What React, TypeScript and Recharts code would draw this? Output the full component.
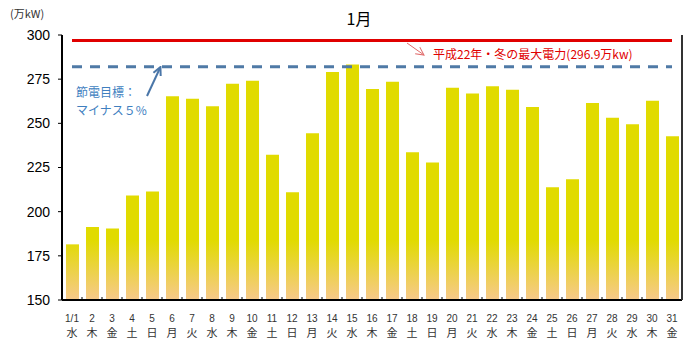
import React from "react";
import {
  BarChart,
  Bar,
  XAxis,
  YAxis,
  ReferenceLine,
} from "recharts";

const days = [
  "1/1", "2", "3", "4", "5", "6", "7", "8", "9", "10", "11", "12", "13", "14", "15", "16",
  "17", "18", "19", "20", "21", "22", "23", "24", "25", "26", "27", "28", "29", "30", "31",
];

const weekdays = [
  "水", "木", "金", "土", "日", "月", "火", "水", "木", "金", "土", "日", "月", "火", "水", "木",
  "金", "土", "日", "月", "火", "水", "木", "金", "土", "日", "月", "火", "水", "木", "金",
];

const peakDemand = [
  181.5, 191.3, 190.5, 209.1, 211.4, 265.4, 263.9, 259.6, 272.4, 274.1, 232.2, 211, 244.4, 279.1,
  283.3, 269.4, 273.5, 233.7, 227.9, 270.1, 266.9, 271, 269, 259.2, 213.8, 218.3, 261.5, 253.2,
  249.5, 262.8, 242.7,
];

const yTicks = [150, 175, 200, 225, 250, 275, 300];

const maxLastWinter = 296.9;
const savingTarget = 282;

const FONT = "'Liberation Sans', 'Noto Sans CJK JP', sans-serif";
const JP = "'Noto Sans CJK JP', sans-serif";

const data = days.map((d, i) => ({ day: d, wd: weekdays[i], value: peakDemand[i] }));

function DayTick(props: any) {
  const { x, y, payload, index } = props;
  const wd = weekdays[index] ?? "";
  return (
    <g>
      {index < days.length - 1 && (
        <line x1={x + 10} y1={y} x2={x + 10} y2={y - 3} stroke="#000" strokeWidth={1} />
      )}
      <text x={x} y={y + 22} textAnchor="middle" fontSize={10} fill="#333" fontFamily={FONT}>
        {payload.value}
      </text>
      <text x={x} y={y + 37} textAnchor="middle" fontSize={11} fill="#333" fontFamily={JP}>
        {wd}
      </text>
    </g>
  );
}

export default function App() {
  return (
    <div style={{ position: "absolute", left: 0, top: 0, width: 700, height: 352, background: "#fff" }}>
      <BarChart
        width={700}
        height={352}
        data={data}
        margin={{ top: 35, right: 0, bottom: 0, left: 0 }}
        barSize={13}
      >
        <defs>
          <linearGradient id="barFill" gradientUnits="userSpaceOnUse" x1="0" y1="240" x2="0" y2="300">
            <stop offset="0" stopColor="#e1db00" />
            <stop offset="1" stopColor="#f7c98c" />
          </linearGradient>
        </defs>
        <XAxis
          xAxisId="main"
          dataKey="day"
          height={52}
          interval={0}
          tickSize={0}
          tickMargin={0}
          tickLine={false}
          axisLine={{ stroke: "#000", strokeWidth: 2 }}
          tick={<DayTick />}
        />
        <XAxis xAxisId="top" orientation="top" dataKey="day" height={0} tick={false} tickLine={false} axisLine={{ stroke: "#555", strokeWidth: 2 }} />
        <YAxis
          yAxisId="main"
          width={62}
          domain={[150, 300]}
          ticks={yTicks}
          interval={0}
          tickSize={4}
          tickMargin={8}
          axisLine={{ stroke: "#000", strokeWidth: 2 }}
          tickLine={{ stroke: "#000" }}
          tick={{ fontSize: 14, fill: "#000", fontFamily: FONT }}
        />
        <YAxis
          yAxisId="right"
          orientation="right"
          width={18}
          domain={[150, 300]}
          tick={false}
          tickLine={false}
          axisLine={{ stroke: "#333", strokeWidth: 2 }}
        />
        <Bar xAxisId="main" yAxisId="main" dataKey="value" fill="url(#barFill)" isAnimationActive={false} />
        <ReferenceLine
          xAxisId="main"
          yAxisId="main"
          segment={[{ x: days[0], y: maxLastWinter }, { x: days[days.length - 1], y: maxLastWinter }]}
          stroke="#e00000"
          strokeWidth={3}
        />
        <ReferenceLine
          xAxisId="main"
          yAxisId="main"
          segment={[{ x: days[0], y: savingTarget }, { x: days[days.length - 1], y: savingTarget }]}
          stroke="#4f7aa6"
          strokeWidth={3}
          strokeDasharray="10 8"
        />
      </BarChart>
      <svg
        width={700}
        height={352}
        style={{ position: "absolute", left: 0, top: 0, pointerEvents: "none" }}
      >
        <defs>
          <marker id="redHead" markerWidth="10" markerHeight="10" refX="1" refY="5" orient="auto" markerUnits="userSpaceOnUse">
            <path d="M9,1 L1,5 L9,9" fill="none" stroke="#e06a6a" strokeWidth="1" />
          </marker>
          <marker id="blueHead" markerWidth="10" markerHeight="10" refX="8" refY="5" orient="auto" markerUnits="userSpaceOnUse">
            <path d="M1,1 L9,5 L1,9" fill="none" stroke="#4a76a8" strokeWidth="2" />
          </marker>
        </defs>
        <text x={10} y={18} fontSize={11} fill="#333" fontFamily={JP}>(万kW)</text>
        <text x={359} y={25} textAnchor="middle" fontSize={16} fill="#000" fontFamily={JP}>1月</text>
        <line x1={424} y1={55} x2={407} y2={43} stroke="#e06a6a" strokeWidth={1} markerStart="url(#redHead)" />
        <text x={433} y={59} fontSize={12} fill="#e00000" fontFamily={JP}>平成22年・冬の最大電力(296.9万kw)</text>
        <line x1={147} y1={96} x2={160} y2={68} stroke="#4a76a8" strokeWidth={2} markerEnd="url(#blueHead)" />
        <text x={76} y={97} fontSize={12} fill="#3f7fbf" fontFamily={JP}>節電目標：</text>
        <text x={76} y={115} fontSize={12} fill="#3f7fbf" fontFamily={JP}>マイナス５%</text>
      </svg>
    </div>
  );
}
